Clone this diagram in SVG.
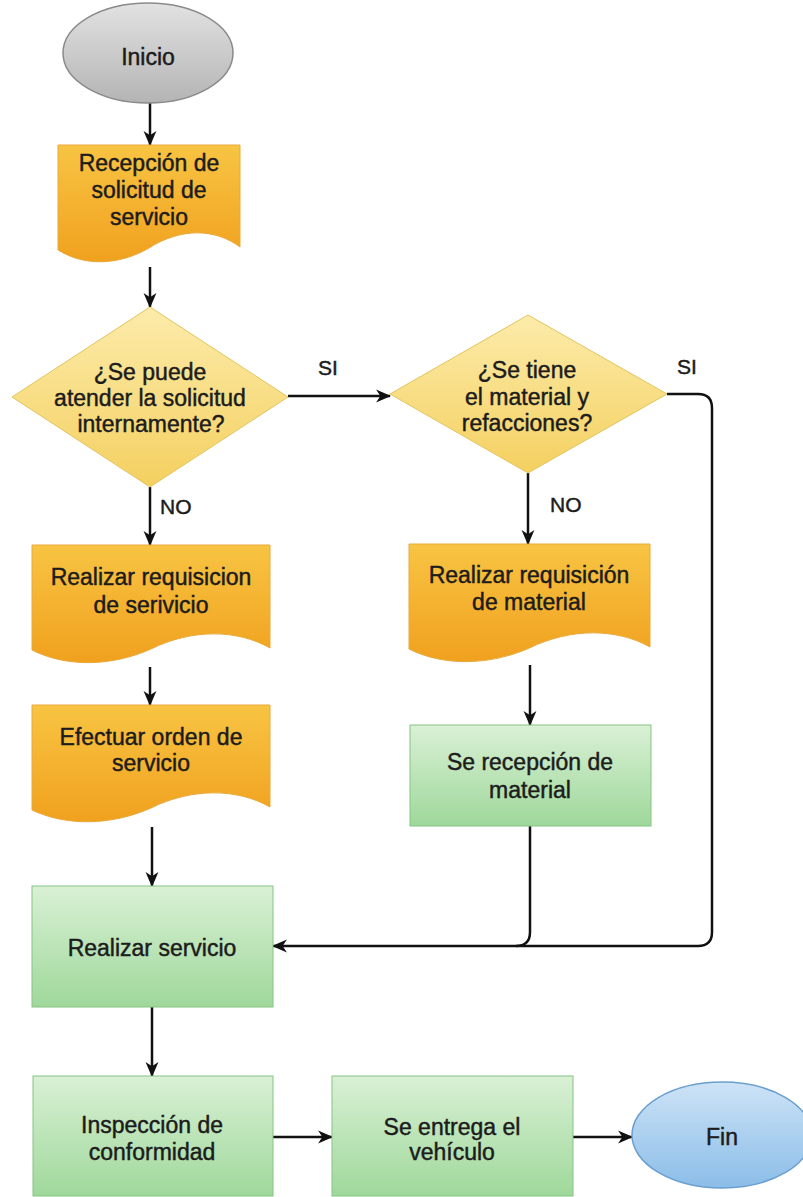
<svg xmlns="http://www.w3.org/2000/svg" width="803" height="1197" viewBox="0 0 803 1197">
<defs>
<linearGradient id="gOrange" x1="0" y1="0" x2="0" y2="1"><stop offset="0" stop-color="#f8c443"/><stop offset="1" stop-color="#f0a11e"/></linearGradient>
<linearGradient id="gYellow" x1="0" y1="0" x2="0" y2="1"><stop offset="0" stop-color="#fcebaa"/><stop offset="1" stop-color="#f4d060"/></linearGradient>
<linearGradient id="gGreen" x1="0" y1="0" x2="0" y2="1"><stop offset="0" stop-color="#d9f0d5"/><stop offset="1" stop-color="#9fd89b"/></linearGradient>
<linearGradient id="gGray" x1="0" y1="0" x2="0" y2="1"><stop offset="0" stop-color="#e2e2e2"/><stop offset="1" stop-color="#b4b4b4"/></linearGradient>
<linearGradient id="gBlue" x1="0" y1="0" x2="0" y2="1"><stop offset="0" stop-color="#cde3f6"/><stop offset="1" stop-color="#8bbde8"/></linearGradient>
<marker id="arr" viewBox="0 0 14 14" refX="13" refY="7" markerWidth="15" markerHeight="15" markerUnits="userSpaceOnUse" orient="auto"><path d="M0,1 L14,7 L0,13 L4,7 Z" fill="#111"/></marker>
</defs>
<style>
text{font-family:"Liberation Sans",Arial,sans-serif;font-size:23px;fill:#1c1c1c;stroke:#1c1c1c;stroke-width:0.45;text-anchor:middle}
.lbl{font-size:21px}
.doc{fill:url(#gOrange);stroke:#e9a93a;stroke-width:1}
.dec{fill:url(#gYellow);stroke:#e2c45e;stroke-width:1}
.proc{fill:url(#gGreen);stroke:#86c483;stroke-width:1}
.conn path{fill:none;stroke:#111;stroke-width:2.5}
</style>
<rect width="803" height="1197" fill="#ffffff"/>
<g class="conn" id="connectors">
<path d="M150,103 L150,145" marker-end="url(#arr)"/>
<path d="M150,267 L150,307" marker-end="url(#arr)"/>
<path d="M288,396 L390,396" marker-end="url(#arr)"/>
<path d="M667,394 L698,394 Q712,394 712,408 L712,932 Q712,946 698,946 L273,946" marker-end="url(#arr)"/>
<path d="M150,487 L150,545" marker-end="url(#arr)"/>
<path d="M150,667 L150,705" marker-end="url(#arr)"/>
<path d="M152,827 L152,886" marker-end="url(#arr)"/>
<path d="M528,473 L528,544" marker-end="url(#arr)"/>
<path d="M530,665 L530,725" marker-end="url(#arr)"/>
<path d="M530,826 L530,932 Q530,946 516,946"/>
<path d="M152,1007 L152,1076" marker-end="url(#arr)"/>
<path d="M273,1137 L332,1137" marker-end="url(#arr)"/>
<path d="M573,1137 L632,1137" marker-end="url(#arr)"/>
<text class="lbl" x="328" y="375">SI</text>
<text class="lbl" x="687" y="374">SI</text>
<text class="lbl" x="160" y="514" style="text-anchor:start">NO</text>
<text class="lbl" x="550" y="512" style="text-anchor:start">NO</text>
</g>
<g id="inicio">
<ellipse cx="148" cy="53" rx="85" ry="50" fill="url(#gGray)" stroke="#8a8a8a" stroke-width="1.5"/>
<text x="148" y="65">Inicio</text>
</g>
<g id="recepcion">
<path class="doc" d="M58,145 L240,145 L240,247 C214.5,228 180.5,228 149,248 C118,266 83.5,266 58,250 Z"/>
<text x="149" y="171">Recepción de</text>
<text x="149" y="198">solicitud de</text>
<text x="149" y="225">servicio</text>
</g>
<g id="decision1">
<path class="dec" d="M150,307 L288,397 L150,487 L12,397 Z"/>
<text x="150" y="380">¿Se puede</text>
<text x="150" y="406">atender la solicitud</text>
<text x="151" y="432">internamente?</text>
</g>
<g id="decision2">
<path class="dec" d="M528,315 L667,394 L528,473 L390,394 Z"/>
<text x="527" y="378">¿Se tiene</text>
<text x="527" y="405">el material y</text>
<text x="527" y="431">refacciones?</text>
</g>
<g id="req-servicio">
<path class="doc" d="M32,545 L270,545 L270,648 C236.7,629 191.5,629 151,649 C110.5,667 65.3,667 32,650 Z"/>
<text x="151" y="585">Realizar requisicion</text>
<text x="151" y="613">de serivicio</text>
</g>
<g id="efectuar-orden">
<path class="doc" d="M32,705 L270,705 L270,807 C236.7,788 191.5,788 151,808 C110.5,826 65.3,826 32,810 Z"/>
<text x="151" y="745">Efectuar orden de</text>
<text x="151" y="771">servicio</text>
</g>
<g id="req-material">
<path class="doc" d="M409,544 L650,544 L650,647 C616.3,628 570.5,628 529.5,648 C488.5,666 442.7,666 409,649 Z"/>
<text x="529" y="583">Realizar requisición</text>
<text x="529" y="610">de material</text>
</g>
<g id="recepcion-material">
<rect class="proc" x="410" y="725" width="241" height="101"/>
<text x="530" y="770">Se recepción de</text>
<text x="530" y="798">material</text>
</g>
<g id="realizar-servicio">
<rect class="proc" x="32" y="886" width="241" height="121"/>
<text x="152" y="956">Realizar servicio</text>
</g>
<g id="inspeccion">
<rect class="proc" x="33" y="1076" width="240" height="120"/>
<text x="152" y="1133">Inspección de</text>
<text x="152" y="1160">conformidad</text>
</g>
<g id="entrega">
<rect class="proc" x="332" y="1076" width="241" height="120"/>
<text x="452" y="1135">Se entrega el</text>
<text x="452" y="1160">vehículo</text>
</g>
<g id="fin">
<ellipse cx="722" cy="1135" rx="90" ry="53" fill="url(#gBlue)" stroke="#6a9fd0" stroke-width="1.5"/>
<text x="722" y="1145">Fin</text>
</g>
</svg>
